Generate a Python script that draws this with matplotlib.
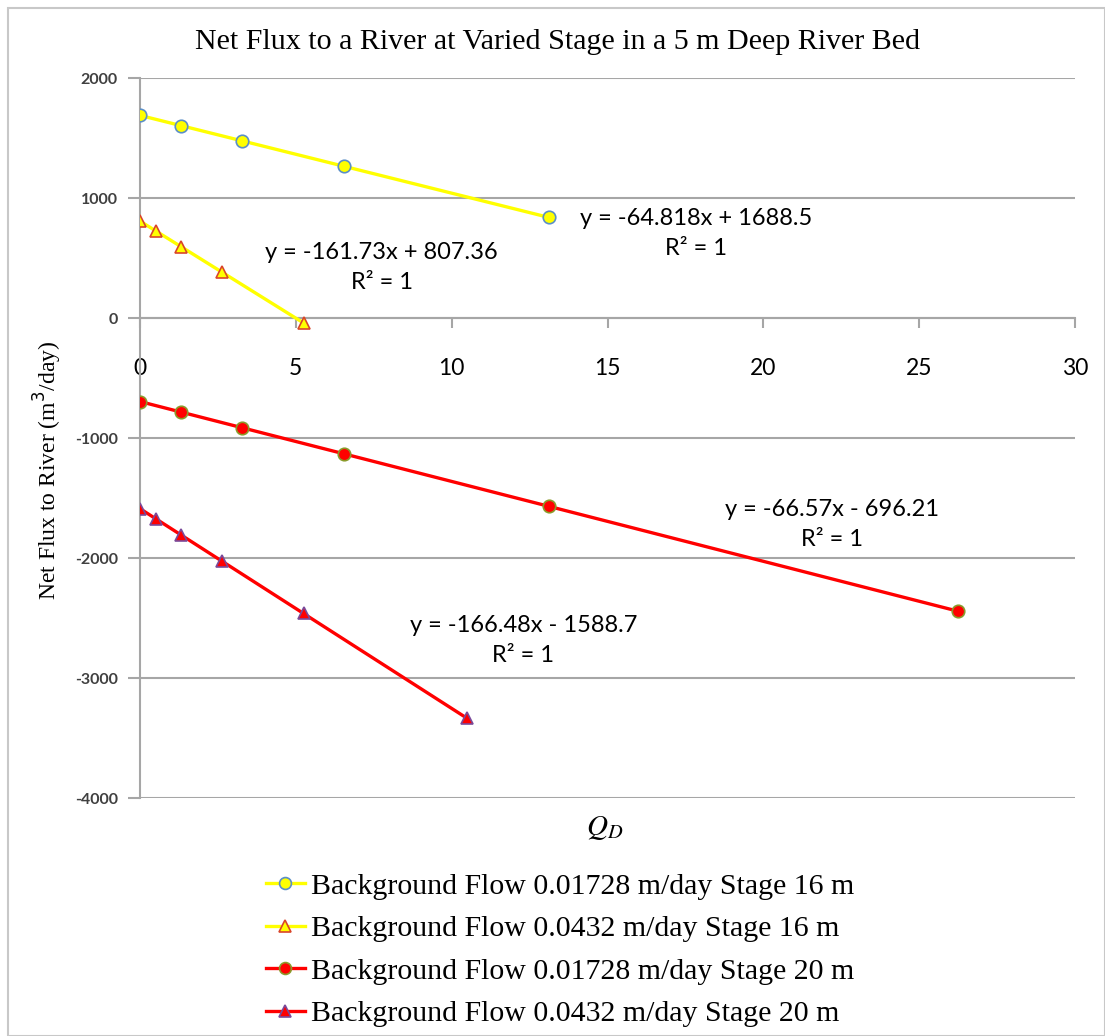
import numpy as np
import matplotlib.pyplot as plt
from matplotlib.patches import Rectangle

# discharge Q_D values for each run
qd_a = [0, 1.312, 3.28, 6.56, 13.12]
qd_b = [0, 0.525, 1.312, 2.624, 5.248]
qd_c = [0, 1.312, 3.28, 6.56, 13.12, 26.24]
qd_d = [0, 0.525, 1.312, 2.624, 5.248, 10.496]

# net flux to river (m3/day)
flux_a = [1688.5, 1603.5, 1475.9, 1263.3, 838.1]
flux_b = [807.4, 722.5, 595.2, 383.0, -41.4]
flux_c = [-696.2, -783.6, -914.6, -1132.9, -1569.6, -2443.0]
flux_d = [-1588.7, -1676.1, -1807.1, -2025.5, -2462.4, -3336.1]

labels = [
    "Background Flow 0.01728 m/day Stage 16 m",
    "Background Flow 0.0432 m/day Stage 16 m",
    "Background Flow 0.01728 m/day Stage 20 m",
    "Background Flow 0.0432 m/day Stage 20 m",
]
trend_text = [
    "y = -64.818x + 1688.5",
    "y = -161.73x + 807.36",
    "y = -66.57x - 696.21",
    "y = -166.48x - 1588.7",
]
trend_pos = [(17.85, 833), (7.75, 542), (22.2, -1600), (12.3, -2560)]

xticks = np.arange(0, 31, 5)
yticks = np.arange(-4000, 2001, 1000)

W, H = 1105, 1036
fig = plt.figure(figsize=(W / 100, H / 100), dpi=100)
ax = fig.add_axes([140 / W, 1 - 798 / H, 935 / W, 720 / H])

grey = "#a6a6a6"
serif = ["Liberation Serif", "DejaVu Serif"]
sans = ["Lato", "DejaVu Sans"]

ax.plot(qd_a, flux_a, color="#ffff00", lw=2.4, marker="o", ms=9,
        mfc="#ffff00", mec="#5b8fc7", mew=1.2, label=labels[0], zorder=3)
ax.plot(qd_b, flux_b, color="#ffff00", lw=2.4, marker="^", ms=9,
        mfc="#ffff00", mec="#d9452a", mew=1.2, label=labels[1], zorder=3)
ax.plot(qd_c, flux_c, color="#ff0000", lw=2.4, marker="o", ms=9,
        mfc="#ff0000", mec="#8a9a2a", mew=1.2, label=labels[2], zorder=3)
ax.plot(qd_d, flux_d, color="#ff0000", lw=2.4, marker="^", ms=9,
        mfc="#ff0000", mec="#7a4a9a", mew=1.2, label=labels[3], zorder=3)

for txt, (x, y) in zip(trend_text, trend_pos):
    ax.text(x, y, txt, ha="center", va="center", fontsize=17, family=sans)
    ax.text(x, y - 250, "R² = 1", ha="center", va="center", fontsize=17, family=sans)

ax.set_xlim(0, 30)
ax.set_ylim(-4000, 2000)

# axis styling first: moving the spine resets tick label properties
for s in ["top", "right"]:
    ax.spines[s].set_visible(False)
ax.spines["left"].set_color(grey)
ax.spines["left"].set_linewidth(1.5)
ax.spines["bottom"].set_position(("data", 0))
ax.spines["bottom"].set_color(grey)
ax.spines["bottom"].set_linewidth(1.5)

ax.set_xticks(xticks)
ax.set_yticks(yticks)
ax.set_yticklabels([str(v) for v in yticks], fontsize=11.5,
                   family=sans, fontweight="bold", color="#404040")
ax.set_xticklabels([str(v) for v in xticks], fontsize=16.5, family=sans)
ax.tick_params(axis="x", direction="out", length=7, width=1.5, color=grey, pad=22)
ax.tick_params(axis="y", direction="out", length=9, width=1.5, color=grey, pad=7)

ax.grid(axis="y", color=grey, lw=1.5)
ax.set_axisbelow(True)

fig.text(558 / W, 1 - 42 / H,
         "Net Flux to a River at Varied Stage in a 5 m Deep River Bed",
         fontsize=21.6, family=serif, ha="center", va="center")
fig.text(48 / W, 1 - 470 / H, "Net Flux to River (m$^3$/day)", fontsize=17,
         family=serif, rotation=90, ha="center", va="center")
fig.text(605 / W, 1 - 828 / H, r"$Q_D$", fontsize=21, math_fontfamily="stix",
         ha="center", va="center")

ax.legend(loc="upper left", bbox_to_anchor=(266 / W, 1 - 873 / H),
          bbox_transform=fig.transFigure, frameon=False, borderaxespad=0,
          borderpad=0, prop={"family": serif, "size": 21.5}, handlelength=1.3,
          handletextpad=0.2, labelspacing=0.52, markerscale=0.95)

fig.patches.append(Rectangle((8 / W, 0), 1 - 8 / W, 1 - 8 / H, transform=fig.transFigure,
                             fill=False, edgecolor="#c8c8c8", lw=1.5))

fig.savefig("out.png", dpi=100)
